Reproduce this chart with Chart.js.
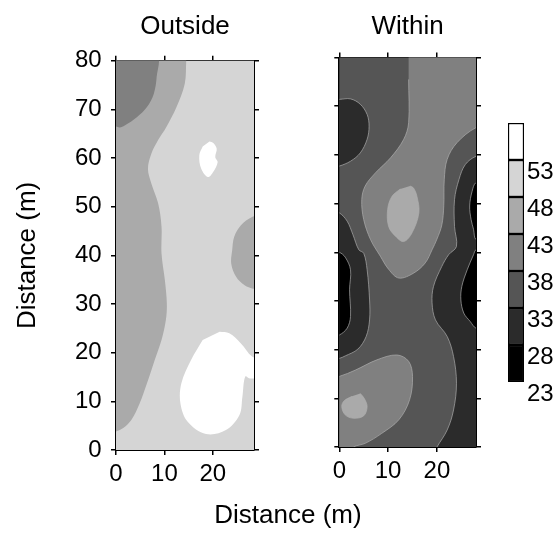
<!DOCTYPE html>
<html lang="en">
<head>
<meta charset="UTF-8">
<title>Outside / Within</title>
<script src="https://cdn.jsdelivr.net/npm/chart.js@4.4.1/dist/chart.umd.min.js"></script>
<style>
  body { margin: 0; background: #fff; }
  #wrap { position: relative; width: 559px; height: 539px; font-family: "Liberation Sans", Arial, sans-serif; }
  canvas { position: absolute; top: 0; }
  #xTitle { position: absolute; left: 188px; top: 501px; width: 200px; text-align: center; font-size: 26px; line-height: 26px; color: #000; }
</style>
</head>
<body>
<div id="wrap">
  <canvas id="outsideChart" width="270" height="539" style="left:0"></canvas>
  <canvas id="withinChart" width="205" height="539" style="left:285px"></canvas>
  <canvas id="scaleChart" width="69" height="539" style="left:490px"></canvas>
  <div id="xTitle">Distance (m)</div>
</div>

<script>
  const levelBreaks = [23, 28, 33, 38, 43, 48, 53, 58];
  const levelColors = ['#000000', '#2b2b2b', '#555555', '#808080', '#aaaaaa', '#d5d5d5', '#ffffff'];
  const scaleTicks = [23, 28, 33, 38, 43, 48, 53];
  const xTicks = [0, 10, 20];
  const yTicks = [0, 10, 20, 30, 40, 50, 60, 70, 80];

  // Outside: contour regions, [x, y] in metres
  const outsideBase = [[-1, -1], [30, -1], [30, 81], [-1, 81]];
  const outsideLeft = [[-1, 81], [14.5, 81], [14.5, 80], [14.2, 75.3], [12.5, 70.5], [10.4, 66.4], [8.7, 63.7], [7.3, 60.9],
    [6.6, 57.8], [7.3, 54.8], [8.7, 50.7], [9.4, 45.9], [9.4, 40.4], [10.1, 34.9], [10.5, 30.1], [10.3, 26.7], [9.4, 22.6],
    [8.0, 18.5], [6.4, 13.7], [4.9, 9.6], [3.2, 6.2], [1.5, 4.5], [0, 3.8], [-1, 3.6]];
  const outsideCorner = [[-1, 81], [8.4, 81], [8.4, 76.7], [7.8, 73.2], [6.4, 70.5], [4.3, 68.4], [1.8, 66.7], [0.7, 66.3], [-1, 66.9]];
  const outsideRight = [[30, 48.2], [28.1, 47.9], [25.8, 46.2], [24.4, 43.8], [24.0, 41.1], [23.8, 38.3], [24.8, 35.6],
    [26.5, 33.9], [28.1, 33.2], [30, 33.0]];
  const outsideSouth = [[21.4, 24.3], [23.4, 24.0], [25.8, 21.9], [28.1, 19.2], [30, 18.5], [30, 15.1], [27.7, 14.7],
    [26.7, 15.1], [26.1, 10.9], [25.5, 7.2], [22.7, 4.1], [18.6, 3.3], [14.8, 5.8], [13.3, 9.6], [13.5, 13.7], [15.5, 18.5], [17.9, 22.6]];
  const outsideIsland = [[19.3, 63.4], [20.1, 63.1], [20.8, 61.9], [20.5, 60.2], [21.0, 59.2], [20.1, 57.2], [19.0, 56.1],
    [17.6, 57.8], [17.2, 60.6], [17.9, 62.4]];

  // Within
  const withinBase = [[-1, -1], [30, -1], [30, 81], [-1, 81]];
  const withinCentre = [[14.2, 81], [30, 81], [30, 65.6], [28, 65.6], [24.1, 62.5], [22.1, 59.1], [21.5, 54.9], [21.4, 49.5],
    [21.0, 45.6], [20.0, 42.7], [19.0, 40.5], [17.6, 37.8], [15.2, 35.7], [12.2, 34.7], [10.1, 36.5], [8.4, 39.2], [6.4, 42.6],
    [5.0, 46.7], [4.6, 50.8], [5.3, 53.6], [7.4, 56.3], [10.5, 59.4], [13.2, 63.2], [14.2, 66.6], [14.2, 75.5]];
  const withinOval = [[14.5, 53.6], [15.2, 53.2], [15.9, 51.5], [16.3, 48.1], [14.9, 44.0], [13.2, 42.2], [11.5, 43.3],
    [10.1, 45.3], [9.9, 48.8], [10.8, 51.5], [12.5, 53.0]];
  const withinNorthWest = [[-1, 71.4], [0, 71.4], [2.3, 71.5], [4.3, 70.4], [5.7, 68.3], [6.1, 65.9], [5.7, 63.2], [4.3, 60.4],
    [2.3, 58.7], [0, 57.7], [-1, 57.6]];
  const withinWest = [[-1, 48.1], [0, 48.1], [1.6, 46.4], [2.8, 43.6], [4.0, 40.5], [5.0, 39.8], [5.7, 36.4], [6.2, 30.2],
    [6.2, 26.1], [5.5, 22.7], [3.8, 20.1], [1.2, 18.7], [0, 18.2], [-1, 18.1]];
  const withinWestCore = [[-1, 40.0], [0, 40.0], [1.2, 39.0], [2.3, 36.4], [2.1, 32.3], [2.3, 26.8], [1.6, 24.4], [0, 23.0], [-1, 23.0]];
  const withinSouthWest = [[-1, 14.5], [0, 14.5], [3.3, 15.8], [7.7, 17.9], [11.8, 18.9], [14.2, 17.6], [15.0, 14.5], [14.4, 9.7],
    [12.2, 5.6], [8.7, 2.8], [5.3, 0.75], [2.9, 0], [2.5, -1], [-1, -1]];
  const withinSouthWestCore = [[4.3, 11.0], [5.1, 10.0], [5.7, 8.3], [5.0, 6.4], [2.9, 5.9], [1.2, 6.6], [0.5, 8.3], [1.0, 9.5], [2.6, 10.4]];
  const withinEast = [[30, 59.7], [28, 59.7], [25.8, 58.0], [24.5, 54.9], [23.6, 50.8], [23.6, 45.3], [24.0, 41.2], [22.4, 39.5],
    [21.0, 37.1], [19.3, 33.0], [19.0, 29.6], [19.7, 26.1], [22.1, 22.7], [23.4, 18.6], [24.0, 13.1], [23.4, 7.6], [22.1, 3.5],
    [20.0, 0], [19.5, -1], [30, -1]];
  const withinEastUpper = [[30, 54.3], [28, 54.3], [27.2, 52.5], [26.7, 49.5], [27.0, 46.7], [27.5, 44.7], [28, 42.6], [30, 42.6]];
  const withinEastLower = [[30, 40.5], [28, 40.5], [27.5, 39.5], [26.2, 36.4], [25.1, 33.0], [24.9, 30.2], [25.5, 27.5],
    [26.8, 25.8], [28, 24.4], [30, 24.2]];

  // [region, level index] in painting order
  const outsideRegions = [[outsideBase, 5], [outsideLeft, 4], [outsideCorner, 3], [outsideRight, 4], [outsideSouth, 6], [outsideIsland, 6]];
  const withinRegions = [[withinBase, 2], [withinCentre, 3], [withinOval, 4], [withinNorthWest, 1], [withinWest, 1],
    [withinWestCore, 0], [withinSouthWest, 3], [withinSouthWestCore, 4], [withinEast, 1], [withinEastUpper, 0], [withinEastLower, 0]];

  const fontFamily = "'Liberation Sans', Arial, sans-serif";
  const tickFont = { family: fontFamily, size: 24 };
  const titleFont = { family: fontFamily, size: 26, weight: 'normal' };

  function contourDatasets(regions, edge) {
    return regions.map(([pts, level], i) => ({
      data: pts.map(([x, y]) => ({ x, y })),
      fill: 'shape',
      backgroundColor: levelColors[level],
      borderColor: edge || 'rgba(0,0,0,0)',
      borderWidth: i === 0 || !edge ? 0 : 0.8,
      tension: i === 0 ? 0 : 0.35,
      pointRadius: 0
    })).reverse(); // chart.js paints the last dataset first
  }

  function frameAxis(position, extra) {
    return Object.assign({
      type: 'linear',
      position,
      z: 1,
      grid: { drawOnChartArea: false, tickLength: 5, color: '#000', lineWidth: 1.5 },
      border: { color: '#000', width: 2 },
      ticks: { display: false }
    }, extra);
  }

  function panel(canvasId, cfg) {
    const setX = s => { s.ticks = xTicks.map(v => ({ value: v })); };
    const setY = s => { s.ticks = yTicks.map(v => ({ value: v })); };
    new Chart(document.getElementById(canvasId), {
      type: 'line',
      data: { datasets: contourDatasets(cfg.regions, cfg.edge) },
      options: {
        responsive: false,
        animation: false,
        events: [],
        layout: { padding: cfg.padding },
        plugins: {
          legend: { display: false },
          tooltip: { enabled: false },
          title: { display: true, text: cfg.title, font: titleFont, color: '#000', fullSize: false, padding: { top: 0, bottom: cfg.titleGap } }
        },
        scales: {
          x: frameAxis('bottom', {
            min: 0, max: cfg.xMax, afterBuildTicks: setX,
            ticks: { font: tickFont, color: '#000', padding: 4.6, maxRotation: 0 },
            afterFit: s => { s.height = 40; }
          }),
          x2: frameAxis('top', { min: 0, max: cfg.xMax, afterBuildTicks: setX, afterFit: s => { s.height = 8; } }),
          y: frameAxis('left', {
            min: 0, max: 80, afterBuildTicks: setY,
            ticks: { display: cfg.yLabels, font: tickFont, color: '#000', padding: 9.3 },
            title: { display: cfg.yLabels, text: 'Distance (m)', font: titleFont, color: '#000', padding: { top: 11.9, bottom: 0 } },
            afterFit: s => { s.width = cfg.yWidth; }
          }),
          y2: frameAxis('right', { min: 0, max: 80, afterBuildTicks: setY, afterFit: s => { s.width = 10; } })
        }
      }
    });
  }

  panel('outsideChart', {
    title: 'Outside', regions: outsideRegions, edge: null, xMax: 28.5, yLabels: true, yWidth: 116,
    titleGap: 10.6, padding: { top: 11, left: 0, right: 6, bottom: 49 }
  });
  panel('withinChart', {
    title: 'Within', regions: withinRegions, edge: 'rgba(175,175,175,0.85)', xMax: 28, yLabels: false, yWidth: 54.3,
    titleGap: 7.3, padding: { top: 11, left: 0, right: 4, bottom: 52 }
  });

  // colour key
  new Chart(document.getElementById('scaleChart'), {
    type: 'bar',
    data: {
      labels: [''],
      datasets: levelColors.map((c, i) => ({
        data: [[levelBreaks[i], levelBreaks[i + 1]]],
        backgroundColor: c,
        borderColor: '#000',
        borderWidth: 1.5,
        borderSkipped: false,
        grouped: false,
        barPercentage: 1,
        categoryPercentage: 1
      }))
    },
    options: {
      responsive: false,
      animation: false,
      events: [],
      layout: { padding: { left: 18, top: 123, right: 0, bottom: 157 } },
      plugins: { legend: { display: false }, tooltip: { enabled: false } },
      scales: {
        x: { display: false },
        y: {
          position: 'right', min: 23, max: 58,
          afterBuildTicks: s => { s.ticks = scaleTicks.map(v => ({ value: v })); },
          grid: { display: false, drawTicks: false },
          border: { display: false },
          ticks: { font: tickFont, color: '#000', padding: 3, labelOffset: 12.5 },
          afterFit: s => { s.width = 35; }
        }
      }
    }
  });
</script>
</body>
</html>
